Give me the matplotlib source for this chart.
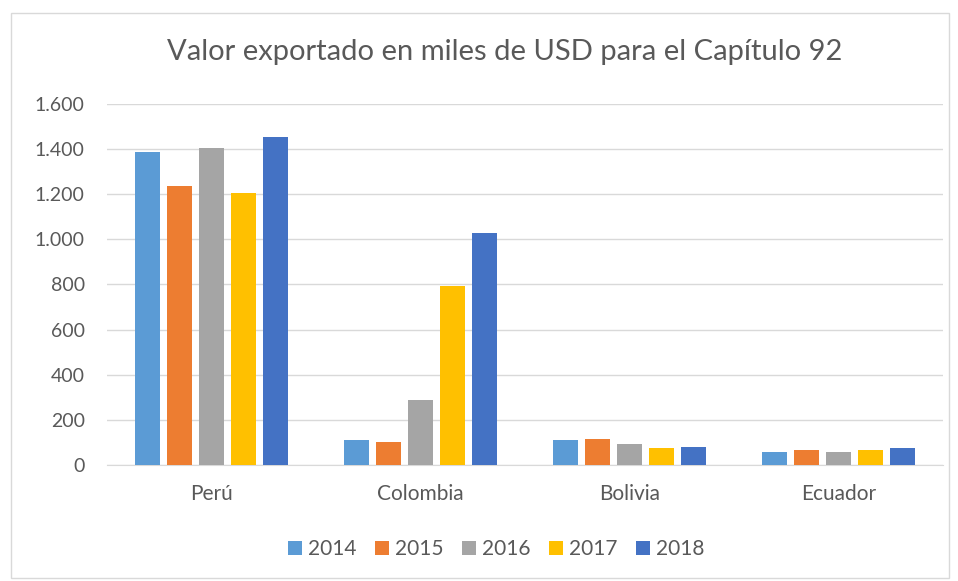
import numpy as np
import matplotlib.pyplot as plt
from matplotlib.patches import Rectangle

plt.rcParams['font.family'] = ['Lato', 'DejaVu Sans']

paises = ['Perú', 'Colombia', 'Bolivia', 'Ecuador']
anios = ['2014', '2015', '2016', '2017', '2018']
v2014 = [1387, 111, 111, 59]
v2015 = [1237, 103, 114, 65]
v2016 = [1405, 288, 92, 58]
v2017 = [1206, 793, 75, 66]
v2018 = [1454, 1028, 78, 75]
colores = ['#5b9bd5', '#ed7d31', '#a5a5a5', '#ffc000', '#4472c4']

series = [v2014, v2015, v2016, v2017, v2018]

fig = plt.figure(figsize=(9.58, 5.81), dpi=100)
ax = fig.add_axes([0.1117, 0.1997, 0.8726, 0.6213])

x = np.arange(len(paises))
paso = 0.153
ancho = 0.12
for i, (vals, c, a) in enumerate(zip(series, colores, anios)):
    ax.bar(x + (i - 2) * paso, vals, width=ancho, color=c, label=a, zorder=3)

ax.set_xlim(-0.5, 3.5)
ax.set_ylim(0, 1600)
ax.set_yticks(range(0, 1601, 200))
ax.set_yticklabels(['0', '200', '400', '600', '800', '1.000', '1.200', '1.400', '1.600'])
ax.set_xticks(x)
ax.set_xticklabels(paises)
ax.grid(axis='y', color='#d9d9d9', linewidth=1, zorder=0)
for s in ['top', 'right', 'left']:
    ax.spines[s].set_visible(False)
ax.spines['bottom'].set_color('#d9d9d9')
ax.tick_params(axis='both', length=0, colors='#595959')
ax.tick_params(axis='y', pad=16, labelsize=14)
ax.tick_params(axis='x', pad=14, labelsize=15)

fig.text(0.527, 0.91, 'Valor exportado en miles de USD para el Capítulo 92',
         ha='center', va='center', fontsize=21, color='#595959')

fig.legend(loc='center', bbox_to_anchor=(0.518, 0.055), ncol=5, frameon=False,
           fontsize=15, handlelength=0.65, handleheight=0.65, handletextpad=0.3,
           columnspacing=0.9, labelcolor='#595959')

fig.patches.append(Rectangle((0.011, 0.006), 0.98, 0.972, transform=fig.transFigure,
                             fill=False, edgecolor='#d9d9d9', linewidth=1))

fig.savefig('out.png', dpi=100)
